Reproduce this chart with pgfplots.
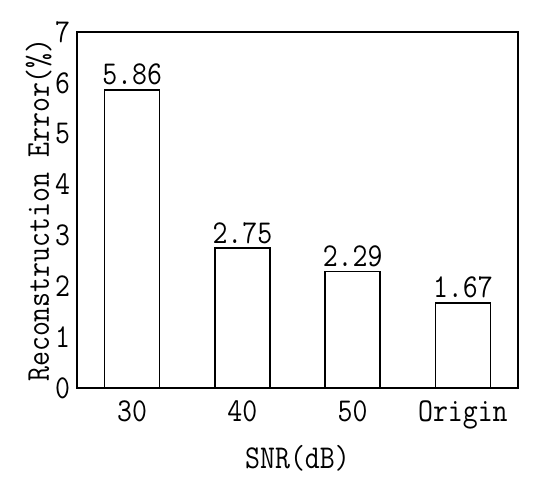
\documentclass[border=0pt]{standalone}
\usepackage{fontspec}
\setmainfont{Latin Modern Mono}[FakeStretch=0.87]
\usepackage{pgfplots}
\pgfplotsset{compat=1.18}
\begin{document}
\begin{tikzpicture}[font=\fontsize{25}{30}\selectfont]
\begin{axis}[
  name=ax,
  scale only axis, width=330.75pt, height=267pt,
  xmin=-0.5, xmax=3.5, ymin=0, ymax=7,
  xtick={0,1,2,3}, xticklabels={30,40,50,Origin},
  ytick={0,1,2,3,4,5,6,7},
  major tick length=0pt,
  axis line style={line width=1.1pt},
  /pgf/number format/assume math mode=true,
  yticklabel style={inner sep=1pt, xshift=-4pt},
  xticklabel style={inner sep=1pt, yshift=-8pt},
  ybar, bar width=0.5,
  nodes near coords, point meta=explicit symbolic,
  every node near coord/.style={anchor=south, inner sep=1pt, yshift=2pt},
  xlabel={SNR(dB)}, ylabel={Reconstruction Error(\%)},
  xlabel style={yshift=-8pt},
  ylabel style={yshift=-2pt},
  clip=false,
]
\addplot[draw=black, fill=white, line width=1.1pt] coordinates {(0,5.86)[5.86] (1,2.75)[2.75] (2,2.29)[2.29] (3,1.67)[1.67]};
\end{axis}
\path ([shift={(-57.75pt,-67.5pt)}]ax.south west) rectangle ++(412.5pt,358.5pt);
\end{tikzpicture}
\end{document}
